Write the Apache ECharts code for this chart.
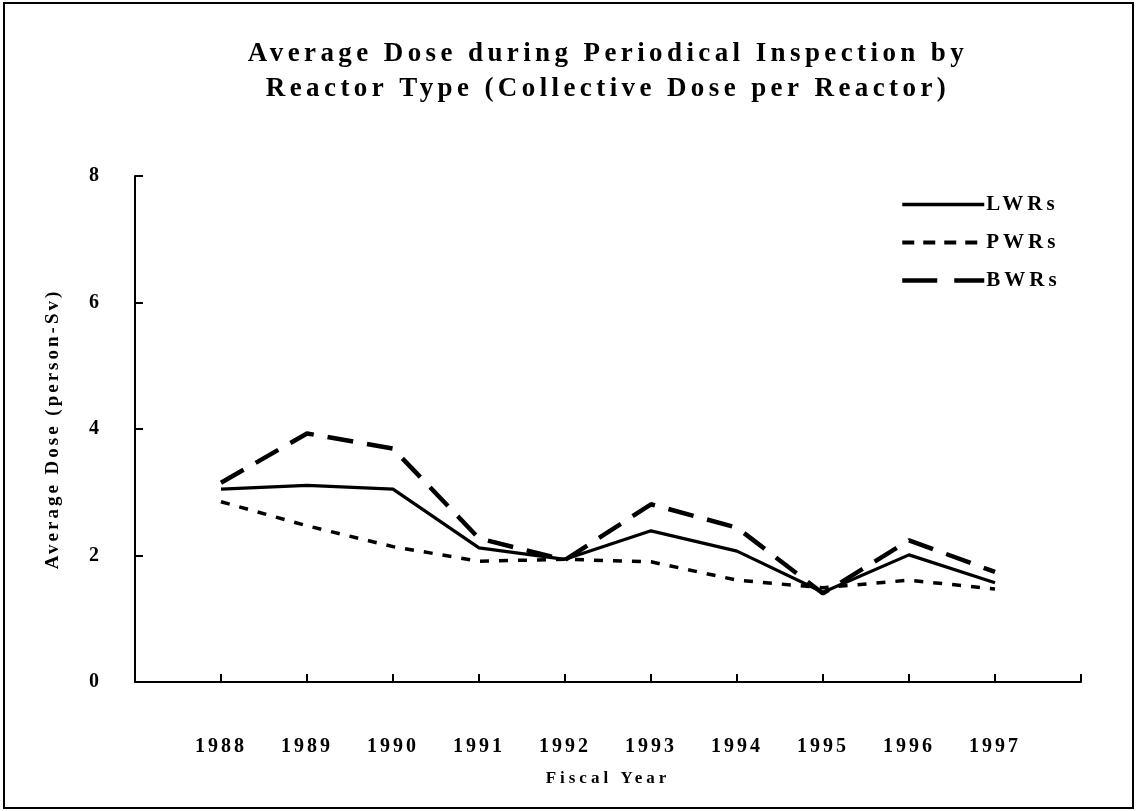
<!DOCTYPE html>
<html>
<head>
<meta charset="utf-8">
<script src="https://cdn.jsdelivr.net/npm/echarts@6/dist/echarts.min.js"></script>
<style>
  html, body { margin: 0; padding: 0; background: #fff; }
  #chart { width: 1137px; height: 811px; }
</style>
</head>
<body>
<div id="chart"></div>
<script>
// ---- Data ----
const years = [1988, 1989, 1990, 1991, 1992, 1993, 1994, 1995, 1996, 1997];
const lwrs = [3.05, 3.11, 3.05, 2.12, 1.94, 2.39, 2.07, 1.42, 2.01, 1.57];
const pwrs = [2.85, 2.47, 2.14, 1.91, 1.94, 1.90, 1.61, 1.49, 1.61, 1.47];
const bwrs = [3.15, 3.93, 3.69, 2.27, 1.93, 2.81, 2.44, 1.40, 2.24, 1.74];
const yTicks = [0, 2, 4, 6, 8];
const titleLines = ['Average Dose during Periodical Inspection by', 'Reactor Type (Collective Dose per Reactor)'];

// letter spacing for the spaced serif look (by font size)
const spacingBySize = { '27': '4.4px', '21': '4px', '20': '3px', '19': '3px', '17': '4px' };
const origFill = CanvasRenderingContext2D.prototype.fillText;
CanvasRenderingContext2D.prototype.fillText = function (t, x, y, m) {
  const r = /(\d+(?:\.\d+)?)px/.exec(this.font);
  try { this.letterSpacing = (r && spacingBySize[r[1]]) || '0px'; } catch (e) {}
  return m === undefined ? origFill.call(this, t, x, y) : origFill.call(this, t, x, y, m);
};

const FONT = '"Liberation Serif", "Times New Roman", serif';
const pairs = arr => years.map((y, i) => [y, arr[i]]);

const chart = echarts.init(document.getElementById('chart'), null, { renderer: 'canvas' });
chart.setOption({
  backgroundColor: '#ffffff',
  animation: false,
  graphic: [{
    type: 'rect',
    shape: { x: 4, y: 3, width: 1129, height: 805 },
    style: { fill: 'none', stroke: '#000', lineWidth: 2 },
    silent: true
  }],
  title: {
    text: titleLines.join('\n'),
    left: 603,
    textAlign: 'center',
    top: 32,
    textStyle: { fontFamily: FONT, fontWeight: 'bold', fontSize: 27, lineHeight: 35, color: '#000' }
  },
  legend: {
    orient: 'vertical',
    left: 900,
    top: 194,
    padding: 0,
    itemWidth: 82,
    itemHeight: 14,
    itemGap: 17,
    itemStyle: { opacity: 0 },
    textStyle: { fontFamily: FONT, fontWeight: 'bold', fontSize: 21, color: '#000', padding: [0, 0, 0, -3] },
    data: [
      { name: 'LWRs', lineStyle: { width: 3.5, type: 'solid', color: '#000' } },
      { name: 'PWRs', lineStyle: { width: 4, type: [12, 9], color: '#000' } },
      { name: 'BWRs', lineStyle: { width: 4.5, type: [35, 17], color: '#000' } }
    ]
  },
  grid: { left: 135, right: 56, top: 176, bottom: 129, containLabel: false, outerBoundsMode: 'none' },
  xAxis: {
    type: 'value',
    min: 1987, max: 1998, interval: 1,
    name: 'Fiscal Year',
    nameLocation: 'middle',
    nameGap: 88,
    nameTextStyle: { fontFamily: FONT, fontWeight: 'bold', fontSize: 17, color: '#000' },
    axisLine: { lineStyle: { color: '#000', width: 2 } },
    axisTick: { inside: true, length: 8, lineStyle: { color: '#000', width: 2 } },
    axisLabel: {
      margin: 55,
      fontFamily: FONT, fontWeight: 'bold', fontSize: 20, color: '#000',
      formatter: v => (years.indexOf(v) >= 0 ? String(v) : '')
    },
    splitLine: { show: false }
  },
  yAxis: {
    type: 'value',
    min: yTicks[0], max: yTicks[yTicks.length - 1], interval: 2,
    name: 'Average Dose (person-Sv)',
    nameLocation: 'middle',
    nameGap: 72,
    nameTextStyle: { fontFamily: FONT, fontWeight: 'bold', fontSize: 19, color: '#000' },
    axisLine: { show: true, lineStyle: { color: '#000', width: 2 } },
    axisTick: { show: true, inside: true, length: 8, lineStyle: { color: '#000', width: 2 } },
    axisLabel: { margin: 33, fontFamily: FONT, fontWeight: 'bold', fontSize: 20, color: '#000' },
    splitLine: { show: false }
  },
  series: [
    { name: 'LWRs', type: 'line', data: pairs(lwrs), symbol: 'none',
      lineStyle: { color: '#000', width: 3.2 }, itemStyle: { color: '#000' } },
    { name: 'PWRs', type: 'line', data: pairs(pwrs), symbol: 'none',
      lineStyle: { color: '#000', width: 3.5, type: [9, 10] }, itemStyle: { color: '#000' } },
    { name: 'BWRs', type: 'line', data: pairs(bwrs), symbol: 'none',
      lineStyle: { color: '#000', width: 4.5, type: [26, 14] }, itemStyle: { color: '#000' } }
  ]
});
</script>
</body>
</html>
